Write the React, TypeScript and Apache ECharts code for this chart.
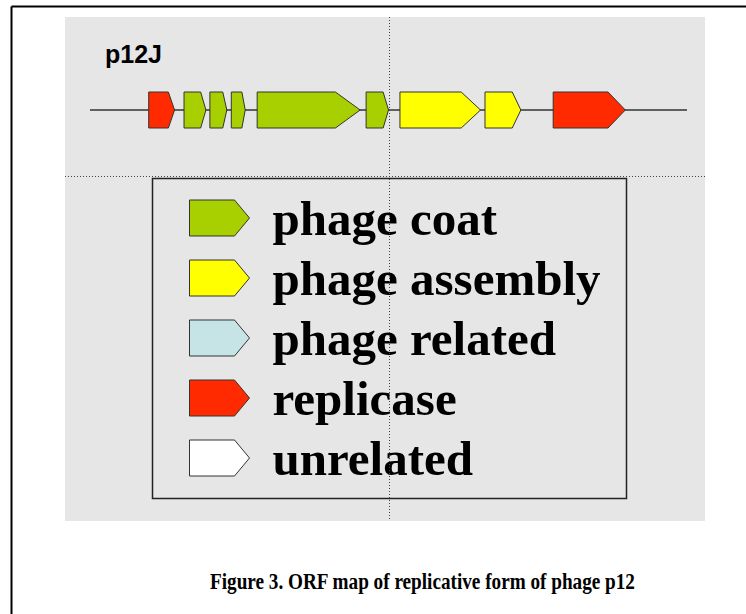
import React, { useEffect, useRef } from "react";
import * as echarts from "echarts";

const categories = ["phage coat", "phage assembly", "phage related", "replicase", "unrelated"];
const categoryColors = ["#a8d000", "#ffff00", "#c6e4e6", "#ff2a00", "#ffffff"];
const geneStarts = [590, 945, 1205, 1420, 1680, 2775, 3115, 3970, 4655];
const geneEnds = [850, 1165, 1375, 1560, 2715, 3000, 3925, 4330, 5380];
const geneCategory = [
  "replicase",
  "phage coat",
  "phage coat",
  "phage coat",
  "phage coat",
  "phage coat",
  "phage assembly",
  "phage assembly",
  "replicase",
];
const genomeLength = 6000;
const phageName = "p12J";
const caption = "Figure 3. ORF map of replicative form of phage p12";

export default function App() {
  const ref = useRef<HTMLDivElement>(null);

  useEffect(() => {
    if (!ref.current) return;
    const chart = echarts.init(ref.current, null, { renderer: "svg" });

    const geneSeries = categories.map((cat, ci) => ({
      name: cat,
      type: "custom",
      clip: false,
      z: 3,
      itemStyle: { color: categoryColors[ci], borderColor: "#333", borderWidth: 1 },
      data: geneStarts
        .map((s, i) => ({ s, e: geneEnds[i], c: geneCategory[i] }))
        .filter((g) => g.c === cat)
        .map((g) => [g.s, g.e]),
      renderItem: (params: any, api: any) => {
        const p0 = api.coord([api.value(0), 1]);
        const p1 = api.coord([api.value(1), 0]);
        const x0 = p0[0];
        const x1 = p1[0];
        const y0 = p0[1];
        const y1 = p1[1];
        const head = (x1 - x0) * 0.24;
        const mid = (y0 + y1) / 2;
        return {
          type: "polygon",
          shape: {
            points: [
              [x0, y0],
              [x1 - head, y0],
              [x1, mid],
              [x1 - head, y1],
              [x0, y1],
            ],
          },
          style: { fill: categoryColors[ci], stroke: "#333", lineWidth: 1 },
        };
      },
    }));

    const option: any = {
      animation: false,
      backgroundColor: "#ffffff",
      title: [
        {
          text: phageName,
          left: 105,
          top: 41,
          padding: 0,
          textStyle: {
            fontFamily: "Liberation Sans",
            fontWeight: "bold",
            fontSize: 25,
            color: "#000",
          },
        },
      ],
      grid: { left: 90, width: 597, top: 92, height: 36 },
      xAxis: { type: "value", min: 0, max: genomeLength, show: false },
      yAxis: { type: "value", min: 0, max: 1, show: false },
      legend: {
        data: categories,
        orient: "vertical",
        left: 189,
        top: 188,
        padding: 0,
        itemWidth: 60,
        itemHeight: 36,
        itemGap: 0,
        selectedMode: false,
        icon: "path://M0,0L45,0L60,18L45,36L0,36Z",
        itemStyle: { borderColor: "#333", borderWidth: 1 },
        textStyle: {
          fontFamily: "Liberation Serif",
          fontWeight: "bold",
          fontSize: 49,
          lineHeight: 38,
          color: "#000",
          padding: [0, 0, 22, 18],
        },
      },
      graphic: [
        {
          type: "rect",
          z: -10,
          silent: true,
          shape: { x: 65, y: 17, width: 640, height: 504 },
          style: { fill: "#e6e6e6" },
        },
        {
          type: "line",
          z: 50,
          silent: true,
          shape: { x1: 11.5, y1: 6.5, x2: 746, y2: 6.5 },
          style: { stroke: "#000", lineWidth: 2 },
        },
        {
          type: "line",
          z: 50,
          silent: true,
          shape: { x1: 11.5, y1: 6.5, x2: 11.5, y2: 614 },
          style: { stroke: "#000", lineWidth: 2 },
        },
        {
          type: "rect",
          z: 1,
          silent: true,
          shape: { x: 152.5, y: 178.5, width: 474, height: 320 },
          style: { fill: "none", stroke: "#222", lineWidth: 1.5 },
        },
        {
          type: "line",
          z: 100,
          silent: true,
          shape: { x1: 389.5, y1: 17, x2: 389.5, y2: 521 },
          style: { stroke: "#444", lineWidth: 1, lineDash: [1, 2] },
        },
        {
          type: "line",
          z: 100,
          silent: true,
          shape: { x1: 65, y1: 176.5, x2: 705, y2: 176.5 },
          style: { stroke: "#444", lineWidth: 1, lineDash: [1, 2] },
        },
        {
          type: "text",
          z: 50,
          silent: true,
          x: 210,
          y: 581,
          scaleX: 0.8,
          style: {
            text: caption,
            fontFamily: "Liberation Serif",
            fontWeight: "bold",
            fontSize: 24,
            fill: "#000",
            verticalAlign: "middle",
            align: "left",
          },
        },
      ],
      series: [
        {
          name: "backbone",
          type: "line",
          z: 2,
          symbol: "none",
          silent: true,
          lineStyle: { color: "#333", width: 1.5 },
          data: [
            [0, 0.5],
            [genomeLength, 0.5],
          ],
        },
        ...geneSeries,
      ],
    };

    chart.setOption(option);
    return () => chart.dispose();
  }, []);

  return (
    <div
      ref={ref}
      style={{ position: "absolute", left: 0, top: 0, width: 746, height: 614 }}
    />
  );
}
